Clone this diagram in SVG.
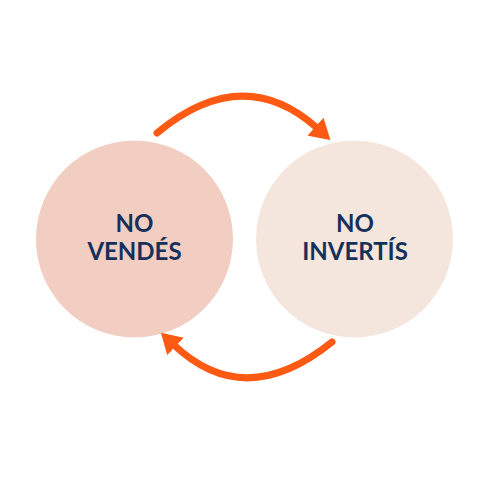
<svg xmlns="http://www.w3.org/2000/svg" width="480" height="480" viewBox="0 0 480 480">
<style>
.lbl{font-family:"Lato","Noto Sans",sans-serif;font-weight:700;font-size:24px;fill:#15305A;text-anchor:middle}
.arc{fill:none;stroke:#FF5A14;stroke-width:7;stroke-linecap:round}
</style>
<defs>
<marker id="ah" viewBox="0 0 20 24" refX="2" refY="12" markerWidth="20" markerHeight="24" markerUnits="userSpaceOnUse" orient="auto">
<path d="M0,0 L20,12 L0,24 z" fill="#FF5A14"/>
</marker>
</defs>
<rect width="480" height="480" fill="#FFFFFF"/>
<g id="node-vendes">
<circle cx="134.5" cy="239" r="98.5" fill="#F2CDC1"/>
<text class="lbl" x="134.5" y="232">NO</text>
<text class="lbl" x="134.5" y="260">VENDÉS</text>
</g>
<g id="node-invertis">
<circle cx="354.5" cy="239" r="98.5" fill="#F5E6DD"/>
<text class="lbl" x="355" y="232">NO</text>
<text class="lbl" x="355" y="260">INVERTÍS</text>
</g>
<g id="connectors">
<path class="arc" d="M157,133 Q243,62 317,128" marker-end="url(#ah)"/>
<path class="arc" d="M332,342 Q245,412 174,345" marker-end="url(#ah)"/>
</g>
</svg>
